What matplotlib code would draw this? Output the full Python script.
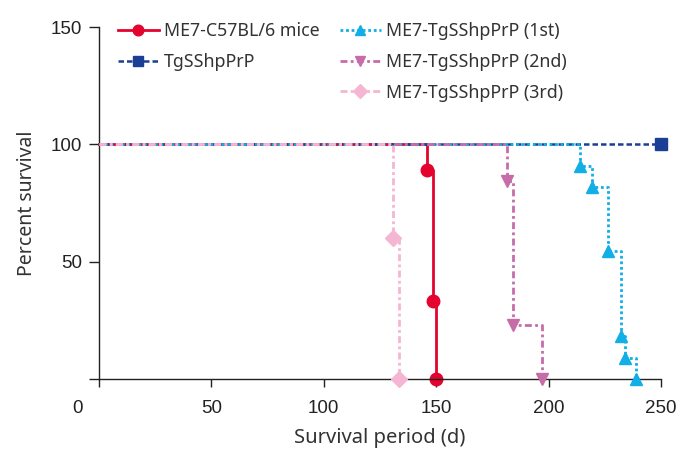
import numpy as np
import matplotlib.pyplot as plt
import matplotlib.transforms as mtransforms

plt.rcParams['font.family'] = ['Noto Sans', 'DejaVu Sans']

# survival curves (time in days, percent survival)
c57_t = [0, 146, 148.5, 150]
c57_s = [100, 88.9, 33.3, 0]

tg_t = [0, 250]
tg_s = [100, 100]

first_t = [0, 214, 219.5, 226.5, 232, 234, 239]
first_s = [100, 90.9, 81.8, 54.5, 18.2, 9.1, 0]

second_t = [0, 181.5, 184, 197]
second_s = [100, 84.6, 23.1, 0]

third_t = [0, 131, 133.3]
third_s = [100, 60, 0]

xticks = [0, 50, 100, 150, 200, 250]
yticks = [0, 50, 100, 150]

txt = '#333333'
fig = plt.figure(figsize=(6.81, 4.51), dpi=100)
ax = fig.add_axes([0.1454, 0.1596, 0.8252, 0.7804])

l_c57, = ax.plot(c57_t, c57_s, drawstyle='steps-post', color='#e4032e', lw=2,
                 marker='o', ms=9, markevery=list(range(1, len(c57_t))),
                 label='ME7-C57BL/6 mice', clip_on=False, zorder=2)
l_tg, = ax.plot(tg_t, tg_s, drawstyle='steps-post', color='#1b3f94', lw=1.8,
                ls=(0, (2.2, 1.2)), marker='s', ms=8, markevery=[1],
                label='TgSShpPrP', clip_on=False, zorder=3)
l_1st, = ax.plot(first_t, first_s, drawstyle='steps-post', color='#12aee6', lw=2,
                 ls=(0, (1, 1)), marker='^', ms=9,
                 markevery=list(range(1, len(first_t))),
                 label='ME7-TgSShpPrP (1st)', clip_on=False, zorder=4)
l_2nd, = ax.plot(second_t, second_s, drawstyle='steps-post', color='#c76ca8', lw=2,
                 ls=(0, (2.5, 1.2, 1, 1.2)), marker='v', ms=9,
                 markevery=list(range(1, len(second_t))),
                 label='ME7-TgSShpPrP (2nd)', clip_on=False, zorder=4)
l_3rd, = ax.plot(third_t, third_s, drawstyle='steps-post', color='#f5b6d3', lw=2,
                 ls=(0, (2.5, 1.2, 1, 1.2)), marker='D', ms=8,
                 markevery=list(range(1, len(third_t))),
                 label='ME7-TgSShpPrP (3rd)', clip_on=False, zorder=4)

ax.set_xlim(0, 250)
ax.set_ylim(0, 150)
ax.spines['top'].set_visible(False)
ax.spines['right'].set_visible(False)
for s in ['left', 'bottom']:
    ax.spines[s].set_color('#222222')
    ax.spines[s].set_linewidth(1.0)

ax.set_xticks(xticks)
ax.set_xticklabels([str(v) for v in xticks])
ax.set_yticks(yticks)
ax.set_yticklabels([''] + [str(v) for v in yticks[1:]])
ax.tick_params(axis='both', width=1.0, color='#222222',
               labelsize=13.5, labelcolor='#222222')
ax.tick_params(axis='x', length=6, pad=9)
ax.tick_params(axis='y', length=7, pad=5)
for lab in ax.get_xticklabels() + ax.get_yticklabels():
    lab.set_fontfamily(['Liberation Sans', 'DejaVu Sans'])

# shared origin label sits left of the corner
lab0 = ax.get_xticklabels()[0]
lab0.set_transform(lab0.get_transform() +
                   mtransforms.ScaledTranslation(-22 / 100, 0, fig.dpi_scale_trans))

ax.set_xlabel('Survival period (d)', fontsize=14.5, color=txt, labelpad=8)
ax.set_ylabel('Percent survival', fontsize=14, color=txt, labelpad=10)

leg_kw = dict(loc='upper left', frameon=False, fontsize=12.8,
              handlelength=2.3, handletextpad=0.3, labelspacing=0.72,
              labelcolor=txt, markerscale=0.85)
leg1 = ax.legend(handles=[l_c57, l_tg], bbox_to_anchor=(0.005, 1.06), **leg_kw)
ax.add_artist(leg1)
ax.legend(handles=[l_1st, l_2nd, l_3rd], bbox_to_anchor=(0.40, 1.06), **leg_kw)

fig.savefig('out.png', dpi=100)
